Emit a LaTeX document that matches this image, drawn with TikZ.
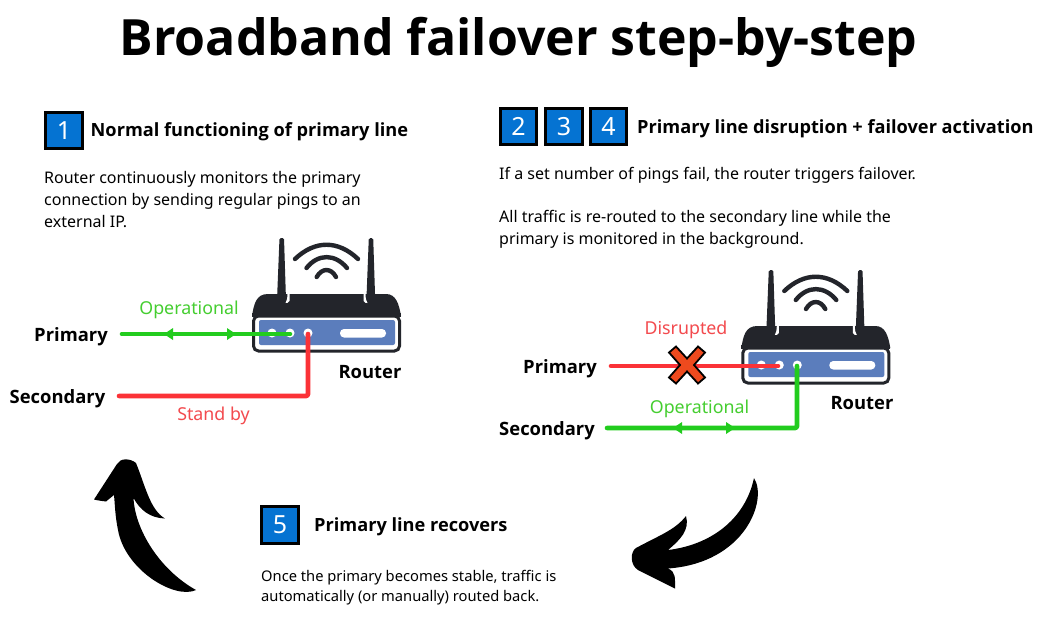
\documentclass[tikz,border=0pt]{standalone}
\usepackage{fontspec}
\setmainfont{Noto Sans}[BoldFont=Open Sans Bold]
\usetikzlibrary{arrows.meta}
\definecolor{ink}{HTML}{23252B}
\definecolor{panel}{HTML}{5B7DBC}
\definecolor{numblue}{HTML}{0573D2}
\definecolor{linegreen}{HTML}{22CC1E}
\definecolor{linered}{HTML}{FB3237}
\definecolor{txtgreen}{HTML}{45CE30}
\definecolor{txtred}{HTML}{F34A4E}
\definecolor{xfill}{HTML}{EE4A1E}
\tikzset{
  x=1pt,y=-1pt,
  numbox/.style={draw=black,line width=2.8pt,fill=numblue,minimum size=36.5pt,inner sep=0pt,text=white,font=\fontsize{25}{25}\selectfont},
  heading/.style={anchor=west,inner sep=0pt,font=\bfseries\fontsize{18.2}{22}\selectfont},
  body/.style={anchor=north west,inner sep=0pt,align=left,font=\fontsize{16}{22.3}\selectfont},
  smallbody/.style={anchor=north west,inner sep=0pt,align=left,font=\fontsize{14.7}{19.5}\selectfont},
  lname/.style={anchor=center,inner sep=0pt,font=\bfseries\fontsize{18.4}{22}\selectfont},
  state/.style={anchor=center,inner sep=0pt,font=\fontsize{17.8}{22}\selectfont},
  wire/.style={line width=4.6pt,line cap=round,line join=round,rounded corners=1.5pt},
  wifi/.style={draw=ink,line width=4.4pt,line cap=round},
  routerpic/.pic={
    \fill[ink,rounded corners=1.5pt] (279.5,238) -- (284,238) -- (286,300) -- (277,300) -- cycle;
    \fill[ink,rounded corners=1.5pt] (368.8,238) -- (373.2,238) -- (375.2,300) -- (366.4,300) -- cycle;
    \fill[ink] (252,316) .. controls (254,304) and (256,294) .. (268,294) -- (386,294) .. controls (396,294) and (399,304) .. (401,316) -- cycle;
    \fill[white] (287.5,294) -- (289.5,294) -- (289.5,301) .. controls (288.5,303) and (287,303) .. (285.5,303) .. controls (287,301) and (287.3,298) .. (287.5,294) -- cycle;
    \fill[white] (363.5,294) -- (365.5,294) .. controls (365.6,298) and (366,301) .. (367.5,303) .. controls (366,303) and (364.5,303) .. (363.5,301) -- cycle;
    \draw[ink,line width=3pt,fill=white,rounded corners=5pt] (253.5,316) -- (399.5,316) -- (399.5,351) -- (253.5,351) -- cycle;
    \fill[ink] (252,313) rectangle (401,316.5);
    \fill[panel,rounded corners=2pt] (259,320) rectangle (395,345);
    \fill[white] (272,333) circle[radius=4.5];
    \fill[white] (290,333) circle[radius=4.5];
    \fill[white] (308,333) circle[radius=4.5];
    \fill[white,rounded corners=4pt] (340,329) rectangle (386,337.5);
    \draw[wifi] (295,259) .. controls (315,240) and (338,240) .. (358,259);
    \draw[wifi] (306.5,268) .. controls (318,253.5) and (335,253.5) .. (347,268);
    \draw[wifi] (316.7,277) .. controls (322,267.7) and (331,267.7) .. (336,277);
  },
}
\begin{document}
\begin{tikzpicture}
\useasboundingbox (0,0) rectangle (1044,623);
\fill[white] (0,0) rectangle (1044,623);

\node[inner sep=0pt,font=\bfseries\fontsize{50}{56}\selectfont] (title) at (518.5,42.5) {Broadband failover step-by-step};

% step 1
\node[numbox] (n1) at (64,130.5) {1};
\node[heading] (h1) at (90.5,132) {Normal functioning of primary line};
\node[body] (b1) at (44,171) {Router continuously monitors the primary\\connection by sending regular pings to an\\external IP.};

% steps 2-4
\node[numbox] (n2) at (518.5,126.5) {2};
\node[numbox] (n3) at (564,126.5) {3};
\node[numbox] (n4) at (608.5,126.5) {4};
\node[heading] (h2) at (637,129) {Primary line disruption + failover activation};
\node[body] (b2) at (499,167) {If a set number of pings fail, the router triggers failover.\\[-2pt]\strut\\All traffic is re-routed to the secondary line while the\\primary is monitored in the background.};

% step 5
\node[numbox] (n5) at (280,525) {5};
\node[heading] (h5) at (314,527) {Primary line recovers};
\node[smallbody] (b5) at (261,570.5) {Once the primary becomes stable, traffic is\\automatically (or manually) routed back.};

% router left
\pic (ra) at (0,0) {routerpic};
\coordinate (pa1) at (290,334);
\coordinate (pa2) at (308,334);
\node[lname] (rl1) at (370,372.5) {Router};
\node[lname] (pl1) at (71,337) {Primary};
\node[lname] (sl1) at (57.5,399) {Secondary};
\node[state,text=txtgreen] (op1) at (189,310) {Operational};
\node[state,text=txtred] (st1) at (213.5,416) {Stand by};
\coordinate (pe1) at (122,334);
\coordinate (se1) at (119,396);
\coordinate (sc1) at (308,396);
\draw[wire,linegreen] (pe1) -- (pa1);
\fill[linegreen] (164,334) -- (173,328) -- (173,340) -- cycle;
\fill[linegreen] (236,334) -- (227,328) -- (227,340) -- cycle;
\draw[wire,linered] (se1) -- (sc1) -- (pa2);

% router right
\pic (rb) at (489.3,32) {routerpic};
\coordinate (pb1) at (778,366);
\coordinate (pb2) at (797,366);
\node[lname] (rl2) at (862,403.5) {Router};
\node[lname] (pl2) at (560,369) {Primary};
\node[lname] (sl2) at (547,431) {Secondary};
\node[state,text=txtred] (st2) at (686,330) {Disrupted};
\node[state,text=txtgreen] (op2) at (699.5,409) {Operational};
\coordinate (pe2) at (611,366);
\coordinate (se2) at (607,428);
\coordinate (sc2) at (797,428);
\draw[wire,linered] (pe2) -- (pb1);
\draw[wire,linegreen] (se2) -- (sc2) -- (pb2);
\fill[linegreen] (673,428) -- (682,422) -- (682,434) -- cycle;
\fill[linegreen] (735,428) -- (726,422) -- (726,434) -- cycle;
\node[inner sep=0pt,minimum size=1pt] (xm) at (687,365) {};
\draw[black,line width=1.8pt,fill=xfill,line join=miter] (xm.center) ++(0,-6.5)
  -- ++(11,-12) -- ++(7,6) -- ++(-11,12.5) -- ++(11,12.5) -- ++(-7,6) -- ++(-11,-12)
  -- ++(-11,12) -- ++(-7,-6) -- ++(11,-12.5) -- ++(-11,-12.5) -- ++(7,-6) -- cycle;

% curved arrows
\fill[black] (94,499.5) -- (117,464) .. controls (120,458) and (130,458) .. (136,463)
  .. controls (145,485) and (150,510) .. (165,518.5)
  .. controls (150,518) and (140,510) .. (133.5,498)
  .. controls (135,530) and (160,570) .. (196,590)
  .. controls (175,600) and (125,570) .. (118,530)
  .. controls (115,515) and (115,505) .. (114,495)
  -- (106,501.5) .. controls (102,501) and (98,500.5) .. (94,499.5) -- cycle;
\fill[black] (754,478) .. controls (768,500) and (745,563) .. (668,568.5)
  .. controls (676,572) and (675,578) .. (675,588.5)
  -- (638,570) .. controls (630,565) and (630,552) .. (636,548)
  .. controls (660,535) and (675,530) .. (686,516)
  .. controls (690,530) and (680,540) .. (668,550)
  .. controls (710,545) and (745,520) .. (754,478) -- cycle;
\end{tikzpicture}
\end{document}
